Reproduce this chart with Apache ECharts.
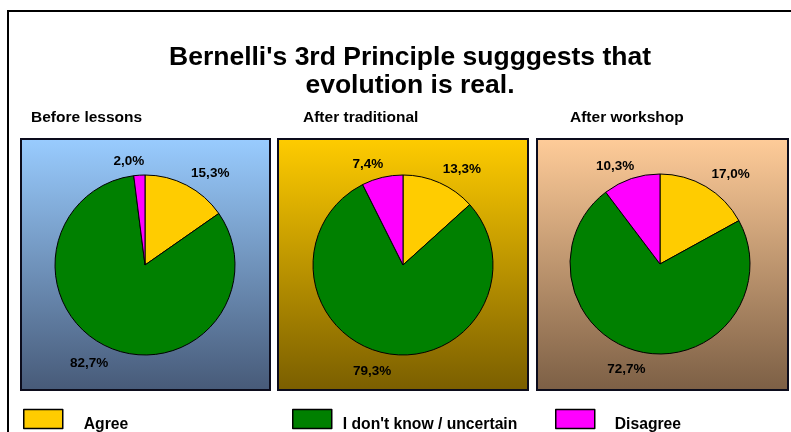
<!DOCTYPE html>
<html>
<head>
<meta charset="utf-8">
<script src="https://cdn.jsdelivr.net/npm/echarts@6/dist/echarts.min.js"></script>
<style>html,body{margin:0;padding:0;background:#fff}#c{width:791px;height:432px}</style>
</head>
<body>
<div id="c"></div>
<script>
// ---- data ----
const categories = ['Agree', "I don't know / uncertain", 'Disagree'];
const panelTitles = ['Before lessons', 'After traditional', 'After workshop'];
const beforeLessons = [15.3, 82.7, 2.0];
const afterTraditional = [13.3, 79.3, 7.4];
const afterWorkshop = [17.0, 72.7, 10.3];
const chartTitle = "Bernelli's 3rd Principle sugggests that\nevolution is real.";

// ---- styling ----
const colors = ['#FFCC00', '#008000', '#FF00FF'];
const panelData = [beforeLessons, afterTraditional, afterWorkshop];
const panelRects = [[21, 139, 249, 251], [278, 139, 250, 251], [537, 139, 251, 251]];
const panelGrad = [['#99CCFF', '#475a78'], ['#FFCC00', '#7a5e00'], ['#FFCC99', '#7c5f45']];
const pieCenters = [[145, 265], [403, 265], [660, 264]];
const subtitleX = [31, 303, 570];
const labelOffsets = [[13, 8], [-10, -5], [-9, 9]];
const fmt = v => v.toFixed(1).replace('.', ',') + '%';
const FONT = 'Liberation Sans, Arial, sans-serif';

const chart = echarts.init(document.getElementById('c'), null, {renderer: 'canvas'});

const graphics = [{
  type: 'rect', shape: {x: 8, y: 11, width: 820, height: 460},
  style: {fill: 'none', stroke: '#000', lineWidth: 2}, silent: true, z: -10
}];
panelRects.forEach((r, i) => {
  graphics.push({
    type: 'rect', shape: {x: r[0], y: r[1], width: r[2], height: r[3]}, z: -5, silent: true,
    style: {
      fill: new echarts.graphic.LinearGradient(0, 0, 0, 1, [
        {offset: 0, color: panelGrad[i][0]}, {offset: 1, color: panelGrad[i][1]}]),
      stroke: '#0c0c1c', lineWidth: 2
    }
  });
});

const titles = [{
  text: chartTitle, left: 410, top: 44, textAlign: 'center', padding: 0,
  textStyle: {fontFamily: FONT, fontSize: 26.5, fontWeight: 'bold', color: '#000', lineHeight: 28}
}];
panelTitles.forEach((t, i) => titles.push({
  text: t, left: subtitleX[i], top: 110, padding: 0,
  textStyle: {fontFamily: FONT, fontSize: 15.5, fontWeight: 'bold', color: '#000'}
}));

const series = [];
panelData.forEach((vals, i) => {
  series.push({
    type: 'pie', center: pieCenters[i], radius: [0, 90], startAngle: 90, clockwise: true,
    animation: false, silent: true,
    label: {show: false}, labelLine: {show: false},
    itemStyle: {borderColor: '#000', borderWidth: 1},
    data: categories.map((c, k) => ({name: c, value: vals[k], itemStyle: {color: colors[k]}}))
  });
});
panelData.forEach((vals, i) => {
  series.push({
    type: 'pie', center: pieCenters[i], radius: [100, 120], startAngle: 90, clockwise: true,
    animation: false, silent: true, legendHoverLink: false,
    itemStyle: {color: 'rgba(0,0,0,0)', borderWidth: 0},
    labelLine: {show: false},
    label: {
      show: true, position: 'inside', formatter: p => fmt(p.value),
      fontFamily: FONT, fontSize: 13.5, fontWeight: 'bold', color: '#000'
    },
    labelLayout: p => ({dx: labelOffsets[p.dataIndex][0], dy: labelOffsets[p.dataIndex][1]}),
    data: categories.map((c, k) => ({name: c, value: vals[k]}))
  });
});

const legendLeft = [23, 292, 555];
const legendPad = [16, 6, 15];
const legends = categories.map((c, k) => ({
  data: [c], left: legendLeft[k], top: 405, padding: 0, orient: 'horizontal',
  icon: 'rect', itemWidth: 39, itemHeight: 19, selectedMode: false,
  itemStyle: {borderColor: '#000', borderWidth: 1.5},
  formatter: '\n{name}',
  textStyle: {fontFamily: FONT, fontSize: 15.7, fontWeight: 'bold', color: '#000',
    lineHeight: 12, padding: [0, 0, 0, legendPad[k]]}
}));

chart.setOption({
  backgroundColor: '#fff',
  animation: false,
  title: titles,
  legend: legends,
  graphic: graphics,
  series: series
});
</script>
</body>
</html>
